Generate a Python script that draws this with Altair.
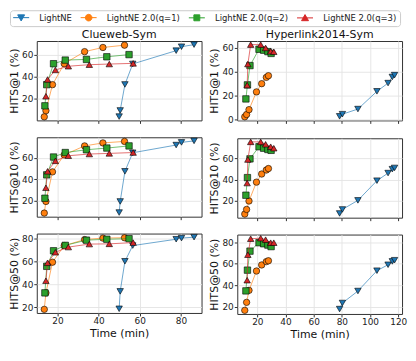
import altair as alt
import pandas as pd

methods = ["LightNE", "LightNE 2.0(q=1)", "LightNE 2.0(q=2)", "LightNE 2.0(q=3)"]
colors = ["#1f77b4", "#ff7f0e", "#2ca02c", "#d62728"]
markers = ["triangle-down", "circle", "square", "triangle-up"]
datasets = ["Clueweb-Sym", "Hyperlink2014-Sym"]
metrics = ["HITS@1", "HITS@10", "HITS@50"]

# ---- Clueweb-Sym: time (min) per method ----
cw_time_lightne = [50.0, 50.5, 52.8, 56.6, 77.7, 80.3, 86.4]
cw_time_q1 = [13.6, 14.4, 17.6, 23.3, 33.2, 42.1, 52.6]
cw_time_q2 = [13.9, 14.8, 18.1, 23.8, 34.1, 44.0, 54.8]
cw_time_q3 = [14.4, 15.2, 19.0, 25.3, 35.5, 45.2, 56.8]

# Clueweb-Sym HITS@1
cw_h1_lightne = [3.5, 9.1, 32.8, 51.5, 63.6, 67.2, 69.1]
cw_h1_q1 = [3.3, 8.9, 32.6, 51.7, 62.7, 66.5, 68.6]
cw_h1_q2 = [13.3, 32.6, 51.7, 55.0, 55.6, 58.0, 60.0]
cw_h1_q3 = [22.0, 37.3, 46.0, 49.4, 50.8, 51.4, 52.0]

# Clueweb-Sym HITS@10
cw_h10_lightne = [8.8, 19.2, 47.4, 64.8, 72.0, 74.5, 75.9]
cw_h10_q1 = [8.3, 19.2, 46.9, 62.8, 71.2, 74.0, 75.4]
cw_h10_q2 = [22.2, 44.1, 60.8, 65.0, 67.6, 69.2, 71.2]
cw_h10_q3 = [32.0, 47.4, 57.2, 62.0, 63.6, 64.2, 65.0]

# Clueweb-Sym HITS@50
cw_h50_lightne = [18.7, 33.8, 59.9, 73.5, 79.0, 80.0, 80.8]
cw_h50_q1 = [18.2, 32.5, 59.1, 73.5, 78.7, 80.0, 80.3]
cw_h50_q2 = [32.5, 55.5, 69.0, 73.7, 78.2, 79.0, 79.5]
cw_h50_q3 = [43.0, 58.6, 67.7, 72.2, 74.8, 75.0, 76.1]

# ---- Hyperlink2014-Sym: time (min) per method ----
hl_time_lightne = [78.4, 80.4, 91.4, 104.9, 112.8, 115.8, 117.4]
hl_time_q1 = [11.1, 12.4, 14.1, 19.4, 23.1, 26.4, 27.9]
hl_time_q2 = [11.9, 13.0, 14.8, 21.2, 24.5, 27.5, 29.8]
hl_time_q3 = [12.8, 13.3, 15.3, 22.4, 25.9, 29.5, 31.7]

# Hyperlink2014-Sym HITS@1
hl_h1_lightne = [2.6, 4.4, 8.7, 23.6, 30.5, 35.6, 37.2]
hl_h1_q1 = [2.2, 4.1, 8.2, 23.1, 30.0, 35.3, 36.7]
hl_h1_q2 = [17.2, 29.0, 45.2, 58.9, 58.1, 56.9, 55.4]
hl_h1_q3 = [28.8, 46.5, 62.8, 62.8, 60.0, 57.2, 56.8]

# Hyperlink2014-Sym HITS@10
hl_h10_lightne = [7.9, 11.7, 20.3, 39.0, 46.2, 49.9, 51.1]
hl_h10_q1 = [7.3, 11.7, 19.7, 37.6, 45.3, 49.1, 50.5]
hl_h10_q2 = [25.2, 41.9, 59.7, 71.2, 69.8, 68.6, 67.8]
hl_h10_q3 = [36.7, 59.1, 75.8, 75.8, 73.5, 71.2, 69.8]

# Hyperlink2014-Sym HITS@50
hl_h50_lightne = [18.0, 23.6, 34.7, 53.5, 59.0, 62.1, 63.2]
hl_h50_q1 = [16.8, 24.2, 35.3, 53.2, 58.8, 61.9, 62.7]
hl_h50_q2 = [34.8, 54.0, 71.6, 79.4, 78.4, 77.2, 75.8]
hl_h50_q3 = [44.7, 68.3, 83.1, 83.6, 82.2, 79.4, 79.4]

# tick labels
cw_x_ticks = [20, 40, 60, 80]
hl_x_ticks = [20, 40, 60, 80, 100, 120]

times = {
    "Clueweb-Sym": [cw_time_lightne, cw_time_q1, cw_time_q2, cw_time_q3],
    "Hyperlink2014-Sym": [hl_time_lightne, hl_time_q1, hl_time_q2, hl_time_q3],
}
values = {
    ("Clueweb-Sym", "HITS@1"): [cw_h1_lightne, cw_h1_q1, cw_h1_q2, cw_h1_q3],
    ("Clueweb-Sym", "HITS@10"): [cw_h10_lightne, cw_h10_q1, cw_h10_q2, cw_h10_q3],
    ("Clueweb-Sym", "HITS@50"): [cw_h50_lightne, cw_h50_q1, cw_h50_q2, cw_h50_q3],
    ("Hyperlink2014-Sym", "HITS@1"): [hl_h1_lightne, hl_h1_q1, hl_h1_q2, hl_h1_q3],
    ("Hyperlink2014-Sym", "HITS@10"): [hl_h10_lightne, hl_h10_q1, hl_h10_q2, hl_h10_q3],
    ("Hyperlink2014-Sym", "HITS@50"): [hl_h50_lightne, hl_h50_q1, hl_h50_q2, hl_h50_q3],
}
x_ticks = {"Clueweb-Sym": cw_x_ticks, "Hyperlink2014-Sym": hl_x_ticks}

rows = []
for (ds, met), series in values.items():
    for m, ts, vs in zip(methods, times[ds], series):
        for i, (t, v) in enumerate(zip(ts, vs)):
            rows.append({"dataset": ds, "metric": met, "method": m, "idx": i, "time": t, "value": v})
df = pd.DataFrame(rows)


def padded(lo, hi, frac=0.05):
    r = hi - lo
    return [lo - frac * r, hi + frac * r]


def tick_values(dom):
    return [v for v in [0, 20, 40, 60, 80, 100] if dom[0] <= v <= dom[1]]


# legend symbols: short line with marker (1 unit = 3.5 px at symbolSize 49)
legend_paths = [
    "M-2.3,0H2.3M-1,-0.8L1,-0.8L0,0.95Z",
    "M-2.3,0H2.3M-0.95,0A0.95,0.95 0 1,0 0.95,0A0.95,0.95 0 1,0 -0.95,0Z",
    "M-2.3,0H2.3M-0.85,-0.85H0.85V0.85H-0.85Z",
    "M-2.3,0H2.3M-1,0.8L1,0.8L0,-0.95Z",
]

PW, PH = 166, 80


def panel(ds, met, row, with_legend=False):
    d = df[(df.dataset == ds) & (df.metric == met)]
    xdom = padded(d.time.min(), d.time.max())
    ydom = padded(d.value.min(), d.value.max())
    x_enc = alt.X(
        "time:Q",
        scale=alt.Scale(domain=xdom, nice=False, zero=False),
        axis=alt.Axis(values=x_ticks[ds], labels=(row == 2),
                      title="Time (min)" if row == 2 else None),
    )
    y_enc = alt.Y(
        "value:Q",
        scale=alt.Scale(domain=ydom, nice=False, zero=False),
        axis=alt.Axis(values=tick_values(ydom), title=f"{met} (%)"),
    )
    layers = []
    for m, c, s in zip(methods, colors, markers):
        dm = d[d.method == m]
        base = alt.Chart(dm)
        layers.append(base.mark_line(color=c, strokeWidth=1, opacity=0.65)
                      .encode(x=x_enc, y=y_enc, order="idx:Q"))
        layers.append(base.mark_point(shape=s, filled=True, fill=c, stroke="black",
                                      strokeWidth=0.6, size=42, opacity=1)
                      .encode(x=x_enc, y=y_enc))
    if with_legend:
        leg = dict(title=None, orient="none", direction="horizontal",
                   legendX=-27, legendY=-31)
        layers.append(
            alt.Chart(d).transform_filter("false")
            .mark_point(filled=True, opacity=1, strokeWidth=1)
            .encode(
                x=x_enc, y=y_enc,
                fill=alt.Fill("method:N", scale=alt.Scale(domain=methods, range=colors), legend=alt.Legend(**leg)),
                stroke=alt.Stroke("method:N", scale=alt.Scale(domain=methods, range=colors), legend=alt.Legend(**leg)),
                shape=alt.Shape("method:N", scale=alt.Scale(domain=methods, range=legend_paths), legend=alt.Legend(**leg)),
            )
        )
    ch = alt.layer(*layers).properties(width=PW, height=PH)
    if row == 0:
        ch = ch.properties(title=ds)
    return ch


cols = []
for ds in datasets:
    panels = [panel(ds, met, r, with_legend=(ds == datasets[0] and r == 0)) for r, met in enumerate(metrics)]
    cols.append(alt.vconcat(*panels, spacing=12))

chart = (
    alt.hconcat(*cols, spacing=6)
    .properties(padding={"left": 0, "top": 0, "right": 0, "bottom": 0})
    .configure_view(stroke="#333333", strokeWidth=1)
    .configure_axis(
        labelFont="DejaVu Sans", labelFontSize=9, labelColor="#222222",
        titleFont="DejaVu Sans", titleFontSize=11, titleFontWeight="normal", titleColor="#111111",
        gridColor="#e3e3e3", gridWidth=0.9, domain=False,
        tickColor="#333333", tickSize=3, labelPadding=1, titlePadding=2,
    )
    .configure_title(font="DejaVu Sans", fontSize=11, fontWeight="normal", color="#111111", offset=1)
    .configure_legend(
        labelFont="DejaVu Sans", labelFontSize=8.5, labelColor="#222222",
        symbolSize=49, symbolStrokeWidth=1, symbolOffset=4,
        labelOffset=14, columnPadding=6, padding=3,
        strokeColor="#cccccc", cornerRadius=3, fillColor="white",
    )
)

chart.save("out.html", embed_options={"renderer": "svg", "actions": False})
